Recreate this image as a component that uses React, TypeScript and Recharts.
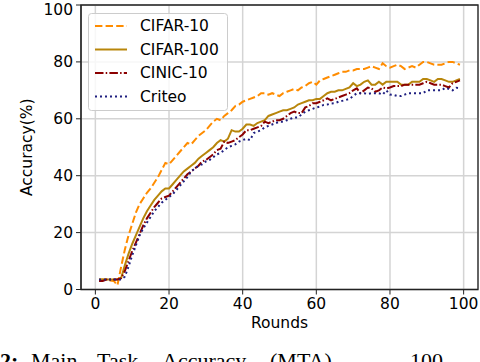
import React from 'react';
import { LineChart, Line, XAxis, YAxis, CartesianGrid, ReferenceArea, Legend, Label } from 'recharts';

const rounds = [1,2,3,4,5,6,7,8,9,10,11,12,13,14,15,16,17,18,19,20,21,22,23,24,25,26,27,28,29,30,31,32,33,34,35,36,37,38,39,40,41,42,43,44,45,46,47,48,49,50,51,52,53,54,55,56,57,58,59,60,61,62,63,64,65,66,67,68,69,70,71,72,73,74,75,76,77,78,79,80,81,82,83,84,85,86,87,88,89,90,91,92,93,94,95,96,97,98,99];

const cifar10 = [3.5,3.5,3.5,3.2,3,1.5,8,14,19,23, 27,30,32,34,35.5,37.5,39.5,42,44.5,44, 45.5,47,48.5,50,51.5,51,52.5,54,55,56, 57.5,59,60,59.5,61,62,63,64.5,65,66, 66.5,67,67.5,68,69,69,68.5,69,68.5,68, 69,69.5,70,70.5,70,71,71.5,72.5,73,72, 73.5,74,74.5,75,75.5,76,76.5,76.5,77,77, 77.5,77.5,77.5,78,78.5,78,77.5,79.5,78.5,78, 78.5,79,78.5,77.5,78,78.5,78,79,80,80, 79.5,79,79,79,79.5,80,80,79.5,79];

const cifar100 = [3.5,3.5,3.5,3.5,3.5,3.5,4,8.5,12.5,16, 19,22,25,27.5,29.5,31.5,33,34.5,35.5,35.5, 37,38.5,40,41.5,42.5,43.5,44.5,46,47,48, 49,50,51.5,52.5,52,53,56,55.5,55.5,56.5, 58,58,57.5,58.5,59,59.5,61,61.5,62,62.5, 63,63,63.5,64,65,65.5,66,66.5,66.5,67, 67,68,69,69.5,69.5,70,70,70.5,71,72.5, 71.5,72,73,73.5,72,72,73,72,73,73, 73,73,72,72,72,73,73,73,74,74, 73.5,73,74,74,73.5,73,73,73.5,74];

const cinic10 = [3,3,3.5,3.5,3.5,3.5,4,6.5,10,13.5, 16.5,19.5,22.5,25,27,29,30.5,32,32.5,33, 34.5,36,37.5,39,40.5,41.5,42.5,43.5,45,45.5, 46.5,47.5,49,49.5,52,51.5,52,52.5,53.5,54.5, 56,56,56.5,57,57.5,59,58.5,59,59.5,59.5, 60,61,62,62.5,62,62,64,64.5,65.5,65.5, 66,66.5,67.2,66.5,67,67.5,68,68.5,69,70, 70.7,69,70,71,70.7,69.5,70,71,70.7,71, 71.5,71.5,71.5,72,72,72,72,72,72.5,73, 72.5,72,72,72,71.5,71,72.5,73,73.5];

const criteo = [3.5,3.5,3.5,3.5,3.5,3.5,3.5,4.5,8,12, 15.5,19,21.5,23.5,25.5,27.5,29,30.5,31.5,32.5, 33.5,35,36.5,38,39.5,41.5,42.5,43.5,44,45, 45.5,46.5,47.5,48,49,50,50.5,51,52,52.5, 53,52.5,55,55.5,56,57,57.5,58,58.5,59, 59,59.5,60,60.5,60.5,61.5,62.5,63,63.5,64, 64.3,64.9,65,65.4,65.5,66,66.3,66.6,67,68, 69,69,69,68.7,69,69,69,68.5,70,68.5, 68.4,68,68,68.5,69,69,69,69,69,70, 70,70,70,70,70.9,70.5,70,70.9,70.7];

const xTicks = [0, 20, 40, 60, 80, 100];
const yTicks = [0, 20, 40, 60, 80, 100];

const seriesNames = ['CIFAR-10', 'CIFAR-100', 'CINIC-10', 'Criteo'];

const data = rounds.map((r, i) => ({
  round: r,
  c10: cifar10[i],
  c100: cifar100[i],
  cinic: cinic10[i],
  criteo: criteo[i],
}));

const FONT = '"DejaVu Sans", Verdana, sans-serif';
const FS = 15.5;

const styles = [
  { key: 'c10', name: seriesNames[0], color: '#ff8c00', dash: '7.4 3.2' },
  { key: 'c100', name: seriesNames[1], color: '#b8860b', dash: undefined },
  { key: 'cinic', name: seriesNames[2], color: '#8b0000', dash: '8.5 2.2 1.5 2.2' },
  { key: 'criteo', name: seriesNames[3], color: '#1f1f80', dash: '2 3' },
];

const renderLegend = () => (
  <svg width={142} height={100} style={{ display: 'block' }}>
    <rect x={0.5} y={0.5} width={139} height={97} rx={3} ry={3} fill="rgba(255,255,255,0.8)" stroke="#cccccc" strokeWidth={1} />
    {styles.map((s, i) => {
      const cy = 13 + i * 23.5;
      return (
        <g key={s.key}>
          <line x1={7} x2={39} y1={cy} y2={cy} stroke={s.color} strokeWidth={2} strokeDasharray={s.dash} />
          <text x={52} y={cy} dominantBaseline="central" fontFamily={FONT} fontSize={FS} fill="#000">{s.name}</text>
        </g>
      );
    })}
  </svg>
);

const YLabel = (props: any) => {
  const vb = props.viewBox || { x: 0, y: 0, width: 81, height: 284 };
  const cx = 32;
  const cy = vb.y + vb.height / 2;
  return (
    <text x={cx} y={cy} transform={`rotate(-90, ${cx}, ${cy})`} textAnchor="middle" fontFamily={FONT} fontSize={FS} fill="#000">Accuracy(%)</text>
  );
};

const XLabel = (props: any) => {
  const vb = props.viewBox || { x: 81, y: 289.5, width: 397, height: 72 };
  const cx = vb.x + vb.width / 2;
  return (
    <text x={cx} y={328} textAnchor="middle" fontFamily={FONT} fontSize={FS} fill="#000">Rounds</text>
  );
};

export default function App() {
  return (
    <div style={{ position: 'absolute', left: 0, top: 0, width: 480, height: 362, background: '#fff', overflow: 'hidden' }}>
      <LineChart width={480} height={362} data={data} margin={{ top: 5, right: 2, bottom: 0, left: 0 }}>
        <CartesianGrid stroke="#d4d4d4" strokeWidth={1.5} />
        <XAxis
          dataKey="round"
          type="number"
          domain={[-3.9, 103.9]}
          ticks={xTicks}
          allowDataOverflow
          height={72.5}
          tickSize={5}
          tickMargin={3}
          stroke="#222"
          tick={{ fill: '#000', fontFamily: FONT, fontSize: FS }}
        >
          <Label content={XLabel} />
        </XAxis>
        <YAxis
          type="number"
          domain={[0, 100]}
          ticks={yTicks}
          allowDataOverflow
          width={81}
          tickSize={5}
          tickMargin={3}
          stroke="#222"
          tick={{ fill: '#000', fontFamily: FONT, fontSize: FS }}
        >
          <Label content={YLabel} />
        </YAxis>
        {styles.map((s) => (
          <Line
            key={s.key}
            type="linear"
            dataKey={s.key}
            name={s.name}
            stroke={s.color}
            strokeWidth={2}
            strokeDasharray={s.dash}
            dot={false}
            activeDot={false}
            isAnimationActive={false}
          />
        ))}
        <ReferenceArea x1={-3.9} x2={103.9} y1={0} y2={100} fill="none" stroke="#222" strokeWidth={1.3} ifOverflow="extendDomain" />
        <Legend
          layout="horizontal"
          verticalAlign="middle"
          align="center"
          content={renderLegend}
          wrapperStyle={{ left: 88, top: 13, width: 142, height: 100 }}
        />
      </LineChart>
      <svg width={480} height={362} style={{ position: 'absolute', left: 0, top: 0, pointerEvents: 'none' }}>
        <g fontFamily='"Liberation Serif", "Times New Roman", serif' fontSize={22} fill="#000">
          <text x={0} y={368} fontWeight="bold">2:</text>
          <text x={31} y={368}>Main</text>
          <text x={97} y={368}>Task</text>
          <text x={162} y={368}>Accuracy</text>
          <text x={270} y={368}>(MTA)</text>
          <text x={410} y={368}>100</text>
        </g>
      </svg>
    </div>
  );
}
